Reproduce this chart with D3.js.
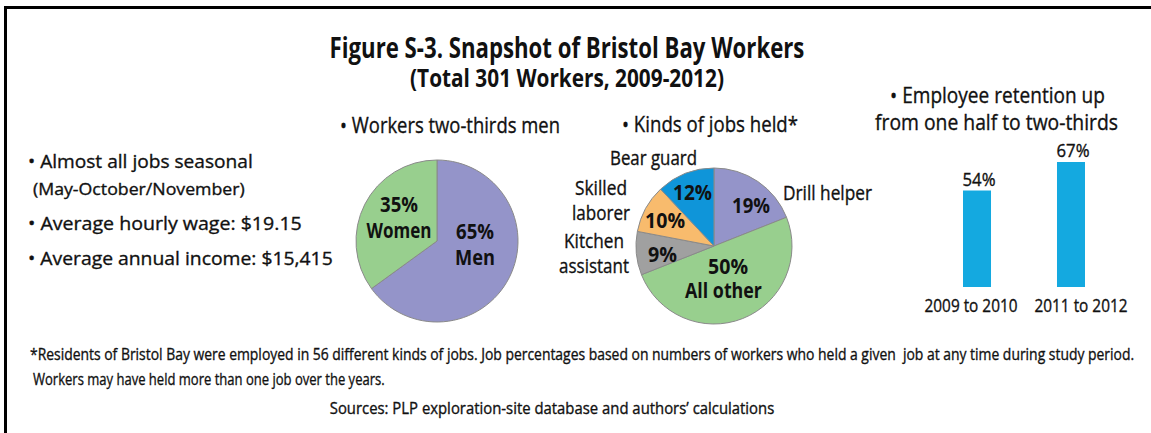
<!DOCTYPE html>
<html>
<head>
<meta charset="utf-8">
<script src="https://cdn.jsdelivr.net/npm/d3@7"></script>
<style>
  html, body { margin: 0; padding: 0; background: #fff; }
  svg { display: block; font-family: "Open Sans", "Noto Sans", sans-serif; }
  text { fill: #111; }
  text.reg { stroke: #111; stroke-width: 0.35px; }
</style>
</head>
<body>
<svg id="fig" width="1151" height="433"></svg>
<script>
// ---- data ----
const genderLabels = ["Men", "Women"];
const genderShares = [65, 35];

const jobLabels = ["Drill helper", "All other", "Kitchen assistant", "Skilled laborer", "Bear guard"];
const jobShares = [19, 50, 9, 10, 12];

const retentionPeriods = ["2009 to 2010", "2011 to 2012"];
const retentionRates = [54, 67];

const summaryLines = [
  "• Almost all jobs seasonal",
  "(May-October/November)",
  "• Average hourly wage: $19.15",
  "• Average annual income: $15,415"
];

const titleLines = [
  "Figure S-3. Snapshot of Bristol Bay Workers",
  "(Total 301 Workers, 2009-2012)"
];

const footnoteLines = [
  "*Residents of Bristol Bay were employed in 56 different kinds of jobs. Job percentages based on numbers of workers who held a given  job at any time during study period.",
  "Workers may have held more than one job over the years.",
  "Sources: PLP exploration-site database and authors’ calculations"
];

// ---- styling ----
const colors = {
  "Men": "#9494c9", "Women": "#98cf8e",
  "Drill helper": "#9494c9", "All other": "#98cf8e", "Kitchen assistant": "#a0a0a0",
  "Skilled laborer": "#f8bb6d", "Bear guard": "#0f95d9",
  bar: "#14a9e0"
};
const REG = 400, BOLD = 700;

const svg = d3.select("#fig");

// text helper: draws the string, then squeezes it horizontally to the given width
function label(parent, str, x, y, o = {}) {
  const weight = o.weight || REG;
  const g = parent.append("g").attr("transform", `translate(${x},${y})`);
  const t = g.append("text")
    .attr("class", weight === REG ? "reg" : "bold")
    .attr("x", 0).attr("y", 0)
    .attr("text-anchor", o.anchor || "start")
    .attr("font-size", o.size || 18)
    .attr("font-weight", weight)
    .style("white-space", "pre")
    .text(str);
  if (o.w) {
    const w0 = t.node().getComputedTextLength();
    if (w0 > 0) g.attr("transform", `translate(${x},${y}) scale(${o.w / w0},1)`);
  }
  return t;
}

// frame (top and left rules)
svg.append("path")
  .attr("d", "M5.5,433V7.5H1151")
  .attr("fill", "none").attr("stroke", "#000").attr("stroke-width", 3);

// title
label(svg, titleLines[0], 567, 58, { anchor: "middle", size: 28.5, weight: BOLD, w: 475 });
label(svg, titleLines[1], 567, 87, { anchor: "middle", size: 25, weight: BOLD, w: 314 });

// left summary text
const summaryLayout = [
  { x: 28, y: 168, size: 19, w: 225 },
  { x: 33, y: 195, size: 16.5, w: 212 },
  { x: 28, y: 230, size: 19, w: 274 },
  { x: 28, y: 265, size: 19, w: 305 }
];
summaryLines.forEach((s, i) => {
  const L = summaryLayout[i];
  label(svg, s, L.x, L.y, { size: L.size, w: L.w });
});

// ---- pie: gender ----
const pie = d3.pie().sort(null).value(d => d.v);
const genderData = genderLabels.map((k, i) => ({ k, v: genderShares[i] }));
const jobData = jobLabels.map((k, i) => ({ k, v: jobShares[i] }));

const g1 = svg.append("g").attr("transform", "translate(437,241)");
const arc1 = d3.arc().innerRadius(0).outerRadius(81);
g1.selectAll("path").data(pie(genderData)).join("path")
  .attr("d", arc1)
  .attr("fill", d => colors[d.data.k])
  .attr("stroke", "#8a8a8a").attr("stroke-width", 1);

label(svg, "• Workers two-thirds men", 450, 133, { anchor: "middle", size: 22, w: 220 });

const genderLabelPos = {
  "Men":   { dx: 38, dy: -2, w1: 38, w2: 40 },
  "Women": { dx: -38, dy: -29, w1: 38, w2: 65 }
};
pie(genderData).forEach(d => {
  const p = genderLabelPos[d.data.k];
  const gx = g1.append("g").attr("transform", `translate(${p.dx},${p.dy})`);
  label(gx, d.data.v + "%", 0, 0, { anchor: "middle", size: 20.5, weight: BOLD, w: p.w1 });
  label(gx, d.data.k, 0, 26, { anchor: "middle", size: 20.5, weight: BOLD, w: p.w2 });
});

// ---- pie: kinds of jobs ----
const g2 = svg.append("g").attr("transform", "translate(714,246)");
const arc2 = d3.arc().innerRadius(0).outerRadius(78);
g2.selectAll("path").data(pie(jobData)).join("path")
  .attr("d", arc2)
  .attr("fill", d => colors[d.data.k])
  .attr("stroke", "#8a8a8a").attr("stroke-width", 1);

label(svg, "• Kinds of jobs held*", 710, 132, { anchor: "middle", size: 22, w: 176 });

// percentage labels inside slices
const jobPctPos = {
  "Drill helper":      { dx: 37, dy: -33, w: 38 },
  "All other":         { dx: 14, dy: 28, w: 40 },
  "Kitchen assistant": { dx: -51.5, dy: 16, w: 29 },
  "Skilled laborer":   { dx: -49, dy: -18, w: 40 },
  "Bear guard":        { dx: -21.5, dy: -46, w: 39 }
};
pie(jobData).forEach(d => {
  const p = jobPctPos[d.data.k];
  label(g2, d.data.v + "%", p.dx, p.dy, { anchor: "middle", size: 20.5, weight: BOLD, w: p.w });
});
label(g2, "All other", 9.5, 52, { anchor: "middle", size: 20.5, weight: BOLD, w: 77 });

// outside category names
const jobNameLayout = [
  { lines: ["Drill helper"], x: 827.5, y: 200, w: [89] },
  { lines: ["Bear guard"], x: 653.5, y: 165, w: [87] },
  { lines: ["Skilled", "laborer"], x: 601, y: 195, w: [52, 58] },
  { lines: ["Kitchen", "assistant"], x: 594, y: 248, w: [60, 70] }
];
jobNameLayout.forEach(L => {
  L.lines.forEach((s, i) => label(svg, s, L.x, L.y + i * 25, { anchor: "middle", size: 20, w: L.w[i] }));
});

// ---- bars: retention ----
label(svg, "• Employee retention up", 997.5, 103, { anchor: "middle", size: 22, w: 215 });
label(svg, "from one half to two-thirds", 996.5, 130, { anchor: "middle", size: 22, w: 243 });

const x = d3.scaleBand().domain(retentionPeriods).range([963, 1085]).paddingInner(0.702).paddingOuter(0);
const y = d3.scaleLinear().domain([10, 67]).range([287, 162]);

svg.selectAll("rect.bar").data(retentionRates).join("rect")
  .attr("class", "bar")
  .attr("x", (d, i) => x(retentionPeriods[i]))
  .attr("y", d => y(d))
  .attr("width", x.bandwidth())
  .attr("height", d => y(10) - y(d))
  .attr("fill", colors.bar);

retentionRates.forEach((v, i) => {
  const cx = x(retentionPeriods[i]) + x.bandwidth() / 2;
  label(svg, v + "%", cx + 2, y(v) - 5, { anchor: "middle", size: 18.5, w: 33 });
});
const periodDx = [-6, 10];
retentionPeriods.forEach((p, i) => {
  const cx = x(p) + x.bandwidth() / 2;
  label(svg, p, cx + periodDx[i], 312, { anchor: "middle", size: 18.5, w: 93 });
});

// ---- footnotes ----
label(svg, footnoteLines[0], 30, 360, { size: 16, w: 1105 });
label(svg, footnoteLines[1], 33, 385, { size: 16, w: 352 });
label(svg, footnoteLines[2], 552, 414, { anchor: "middle", size: 16, w: 445 });
</script>
</body>
</html>
